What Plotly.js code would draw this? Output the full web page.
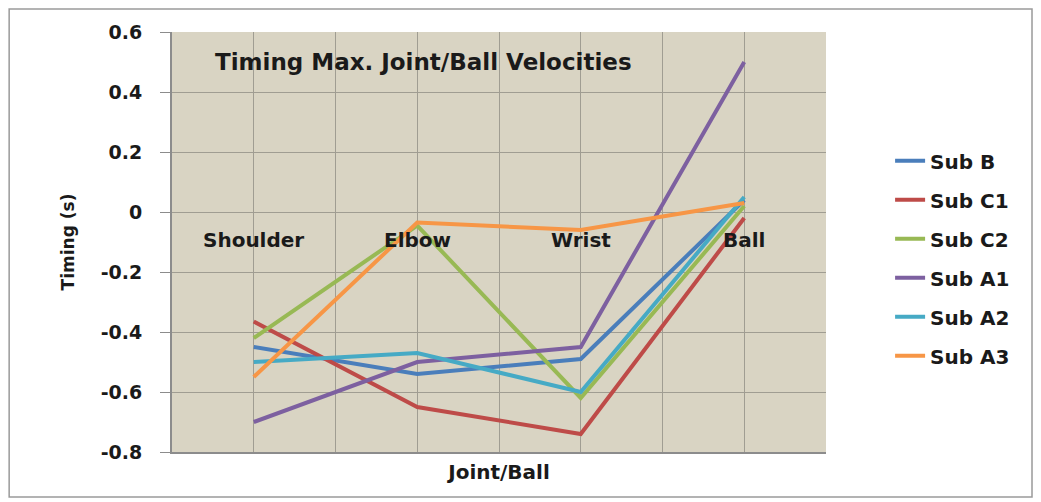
<!DOCTYPE html>
<html>
<head>
<meta charset="utf-8">
<script src="https://cdn.plot.ly/plotly-3.0.1.min.js"></script>
<style>
  html, body { margin: 0; padding: 0; background: #ffffff; }
  #chart { width: 1041px; height: 502px; }
</style>
</head>
<body>
<div id="chart"></div>
<script>
// ---- Data ----
const categories = ["Shoulder", "Elbow", "Wrist", "Ball"];
const seriesNames = ["Sub B", "Sub C1", "Sub C2", "Sub A1", "Sub A2", "Sub A3"];
const subB  = [-0.45, -0.54, -0.49, 0.04];
const subC1 = [-0.365, -0.65, -0.74, -0.02];
const subC2 = [-0.42, -0.045, -0.62, 0.02];
const subA1 = [-0.70, -0.50, -0.45, 0.50];
const subA2 = [-0.50, -0.47, -0.60, 0.05];
const subA3 = [-0.55, -0.035, -0.06, 0.03];
const yTickVals = [-0.8, -0.6, -0.4, -0.2, 0, 0.2, 0.4, 0.6];
const yTickText = ["-0.8", "-0.6", "-0.4", "-0.2", "0", "0.2", "0.4", "0.6"];
const chartTitle = "Timing Max. Joint/Ball Velocities";
const xTitle = "Joint/Ball";
const yTitle = "Timing (s)";

const seriesValues = [subB, subC1, subC2, subA1, subA2, subA3];
const colors = ["#4A7EBB", "#BE4B48", "#98B954", "#7D60A0", "#46AAC5", "#F79646"];
const FONT = "'DejaVu Sans', 'Open Sans', sans-serif";
const TXT = "#1a1a1a";

const xIdx = categories.map((c, i) => i);

const traces = seriesNames.map((name, k) => ({
  type: "scatter",
  mode: "lines",
  name: name,
  x: xIdx,
  y: seriesValues[k],
  text: categories,
  line: { color: colors[k], width: 4 },
  legendgroup: "g" + k,
  hovertemplate: "%{text}: %{y}<extra>" + name + "</extra>"
}));

const annotations = categories.map((c, i) => ({
  x: i, y: -0.093, xref: "x", yref: "y",
  text: "<b>" + c + "</b>", showarrow: false,
  xanchor: "center", yanchor: "middle",
  font: { family: FONT, size: 20, color: TXT }
}));
annotations.push({
  x: 0.063, y: 0.929, xref: "paper", yref: "paper",
  text: "<b>" + chartTitle + "</b>", showarrow: false,
  xanchor: "left", yanchor: "middle",
  font: { family: FONT, size: 23, color: TXT }
});

const layout = {
  width: 1041, height: 502,
  margin: { l: 172, r: 215, t: 32, b: 50 },
  paper_bgcolor: "#ffffff",
  plot_bgcolor: "#D9D4C3",
  showlegend: true,
  legend: {
    x: 1.098, y: 0.74, xanchor: "left", yanchor: "top",
    font: { family: FONT, size: 20, color: TXT, weight: "bold" },
    tracegroupgap: 10,
    bgcolor: "rgba(0,0,0,0)"
  },
  xaxis: {
    type: "linear",
    range: [-0.5, 3.5],
    tick0: -0.5, dtick: 0.5,
    showgrid: true, gridcolor: "#A09D92", gridwidth: 1,
    showticklabels: false, ticks: "",
    zeroline: false,
    showline: true, linecolor: "#8C8C8C", linewidth: 2,
    title: { text: "<b>" + xTitle + "</b>", font: { family: FONT, size: 20, color: TXT }, standoff: 12 },
    fixedrange: true
  },
  yaxis: {
    range: [-0.8, 0.6],
    tickvals: yTickVals, ticktext: yTickText.map(t => "<b>" + t + "</b>"),
    showgrid: true, gridcolor: "#A09D92", gridwidth: 1,
    zeroline: false,
    showline: true, linecolor: "#8C8C8C", linewidth: 2,
    ticks: "outside", ticklen: 10, tickcolor: "#8C8C8C", tickwidth: 1,
    ticklabelstandoff: 14,
    tickfont: { family: FONT, size: 19, color: TXT },
    title: { text: "<b>" + yTitle + "</b>", font: { family: FONT, size: 17, color: TXT }, standoff: 22 },
    fixedrange: true
  },
  annotations: annotations,
  shapes: [{
    type: "rect", xref: "paper", yref: "paper",
    x0: -0.249, x1: 1.315, y0: -0.107, y1: 1.0548,
    line: { color: "#9a9a9a", width: 1.5 }, fillcolor: "rgba(0,0,0,0)", layer: "below"
  }]
};

Plotly.newPlot("chart", traces, layout, { displayModeBar: false, responsive: false });
</script>
</body>
</html>
